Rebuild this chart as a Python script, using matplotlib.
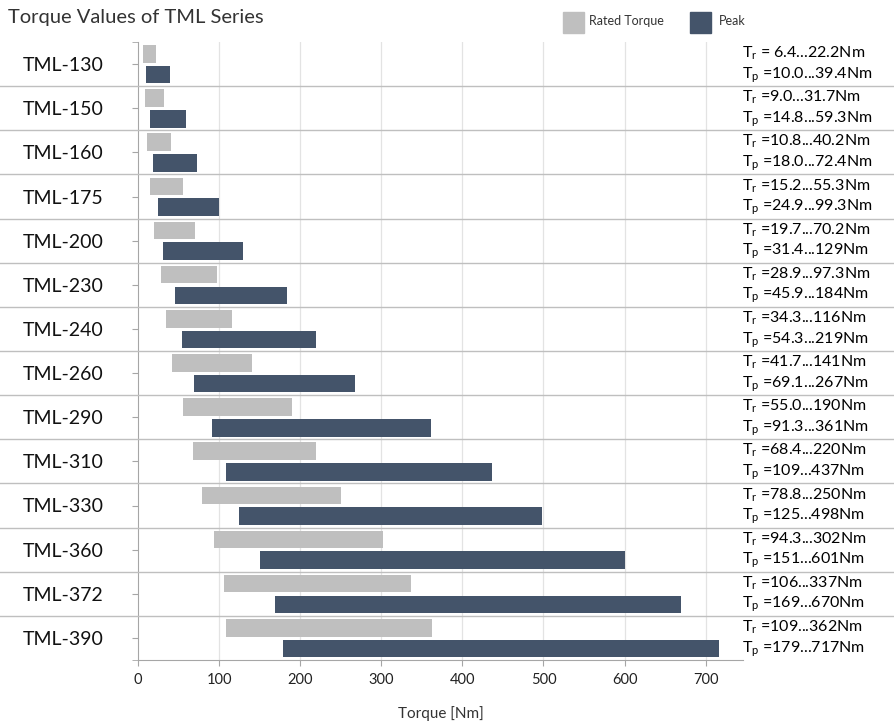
import matplotlib
matplotlib.use("Agg")
import matplotlib.pyplot as plt
import matplotlib.transforms as mtransforms
from matplotlib.patches import Rectangle
import numpy as np

plt.rcParams['font.family'] = ['Lato', 'DejaVu Sans']
plt.rcParams['mathtext.default'] = 'regular'

models = ['TML-130', 'TML-150', 'TML-160', 'TML-175', 'TML-200', 'TML-230', 'TML-240',
          'TML-260', 'TML-290', 'TML-310', 'TML-330', 'TML-360', 'TML-372', 'TML-390']
rated_lo = [6.4, 9.0, 10.8, 15.2, 19.7, 28.9, 34.3, 41.7, 55.0, 68.4, 78.8, 94.3, 106, 109]
rated_hi = [22.2, 31.7, 40.2, 55.3, 70.2, 97.3, 116, 141, 190, 220, 250, 302, 337, 362]
peak_lo = [10.0, 14.8, 18.0, 24.9, 31.4, 45.9, 54.3, 69.1, 91.3, 109, 125, 151, 169, 179]
peak_hi = [39.4, 59.3, 72.4, 99.3, 129, 184, 219, 267, 361, 437, 498, 601, 670, 717]
rated_txt = ['= 6.4...22.2Nm', '=9.0...31.7Nm', '=10.8...40.2Nm', '=15.2...55.3Nm',
             '=19.7...70.2Nm', '=28.9...97.3Nm', '=34.3...116Nm', '=41.7...141Nm',
             '=55.0...190Nm', '=68.4...220Nm', '=78.8...250Nm', '=94.3...302Nm',
             '=106...337Nm', '=109...362Nm']
peak_txt = ['=10.0...39.4Nm', '=14.8...59.3Nm', '=18.0...72.4Nm', '=24.9...99.3Nm',
            '=31.4...129Nm', '=45.9...184Nm', '=54.3...219Nm', '=69.1...267Nm',
            '=91.3...361Nm', '=109...437Nm', '=125...498Nm', '=151...601Nm',
            '=169...670Nm', '=179...717Nm']
xticks = [0, 100, 200, 300, 400, 500, 600, 700]

rated_color = '#bfbfbf'
peak_color = '#44546a'
line_color = '#bfbfbf'

W, H = 894, 728
fig = plt.figure(figsize=(W / 100, H / 100), dpi=100)
ax = fig.add_axes([138 / W, 1 - 660 / H, (743 - 138) / W, (660 - 42) / H])

y = np.arange(len(models))
rl, rh = np.array(rated_lo), np.array(rated_hi)
pl, ph = np.array(peak_lo), np.array(peak_hi)
ax.barh(y - 0.23, rh - rl, left=rl, height=0.4, color=rated_color, zorder=3)
ax.barh(y + 0.24, ph - pl, left=pl, height=0.4, color=peak_color, zorder=3)

ax.set_xlim(0, 746)
ax.set_ylim(len(models) - 0.5, -0.5)
ax.set_xticks(xticks)
ax.set_xticklabels([str(t) for t in xticks], fontsize=10.5, color='#222222')
ax.set_yticks(y)
ax.set_yticklabels(models, fontsize=14, color='#111111')
ax.set_yticks(np.arange(len(models) + 1) - 0.5, minor=True)
ax.tick_params(axis='y', which='both', length=4, color='#a6a6a6', pad=21)
ax.tick_params(axis='x', length=4, color='#a6a6a6', pad=5)
ax.set_xlabel('Torque [Nm]', fontsize=11, color='#333333', labelpad=14)

for v in xticks[1:]:
    ax.axvline(v, color='#e3e3e3', lw=0.9, zorder=0)

for s in ['top', 'right']:
    ax.spines[s].set_visible(False)
for s in ['left', 'bottom']:
    ax.spines[s].set_color('#a6a6a6')

# row separators across the whole figure width
tr = mtransforms.blended_transform_factory(fig.transFigure, ax.transData)
for k in range(len(models) - 1):
    fig.add_artist(plt.Line2D([0, 1], [k + 0.5, k + 0.5], transform=tr,
                              color=line_color, lw=1.0))

# range annotations
ta = mtransforms.blended_transform_factory(ax.transAxes, ax.transData)
for i in range(len(models)):
    ax.text(0.998, i - 0.24, '$T_r$ ' + rated_txt[i], transform=ta, fontsize=11.5,
            va='center', ha='left', clip_on=False)
    ax.text(0.998, i + 0.25, '$T_p$ ' + peak_txt[i], transform=ta, fontsize=11.5,
            va='center', ha='left', clip_on=False)

fig.text(8 / W, 1 - 17 / H, 'Torque Values of TML Series', fontsize=14.5,
         color='#333333', va='center', ha='left')

# legend
fig.add_artist(Rectangle((563 / W, 1 - 33 / H), 21 / W, 21 / H, transform=fig.transFigure,
                         color=rated_color))
fig.text(589 / W, 1 - 21 / H, 'Rated Torque', fontsize=9, color='#333333', va='center')
fig.add_artist(Rectangle((690 / W, 1 - 33 / H), 21 / W, 21 / H, transform=fig.transFigure,
                         color=peak_color))
fig.text(719 / W, 1 - 21 / H, 'Peak', fontsize=9, color='#333333', va='center')

fig.savefig('out.png', dpi=100)
